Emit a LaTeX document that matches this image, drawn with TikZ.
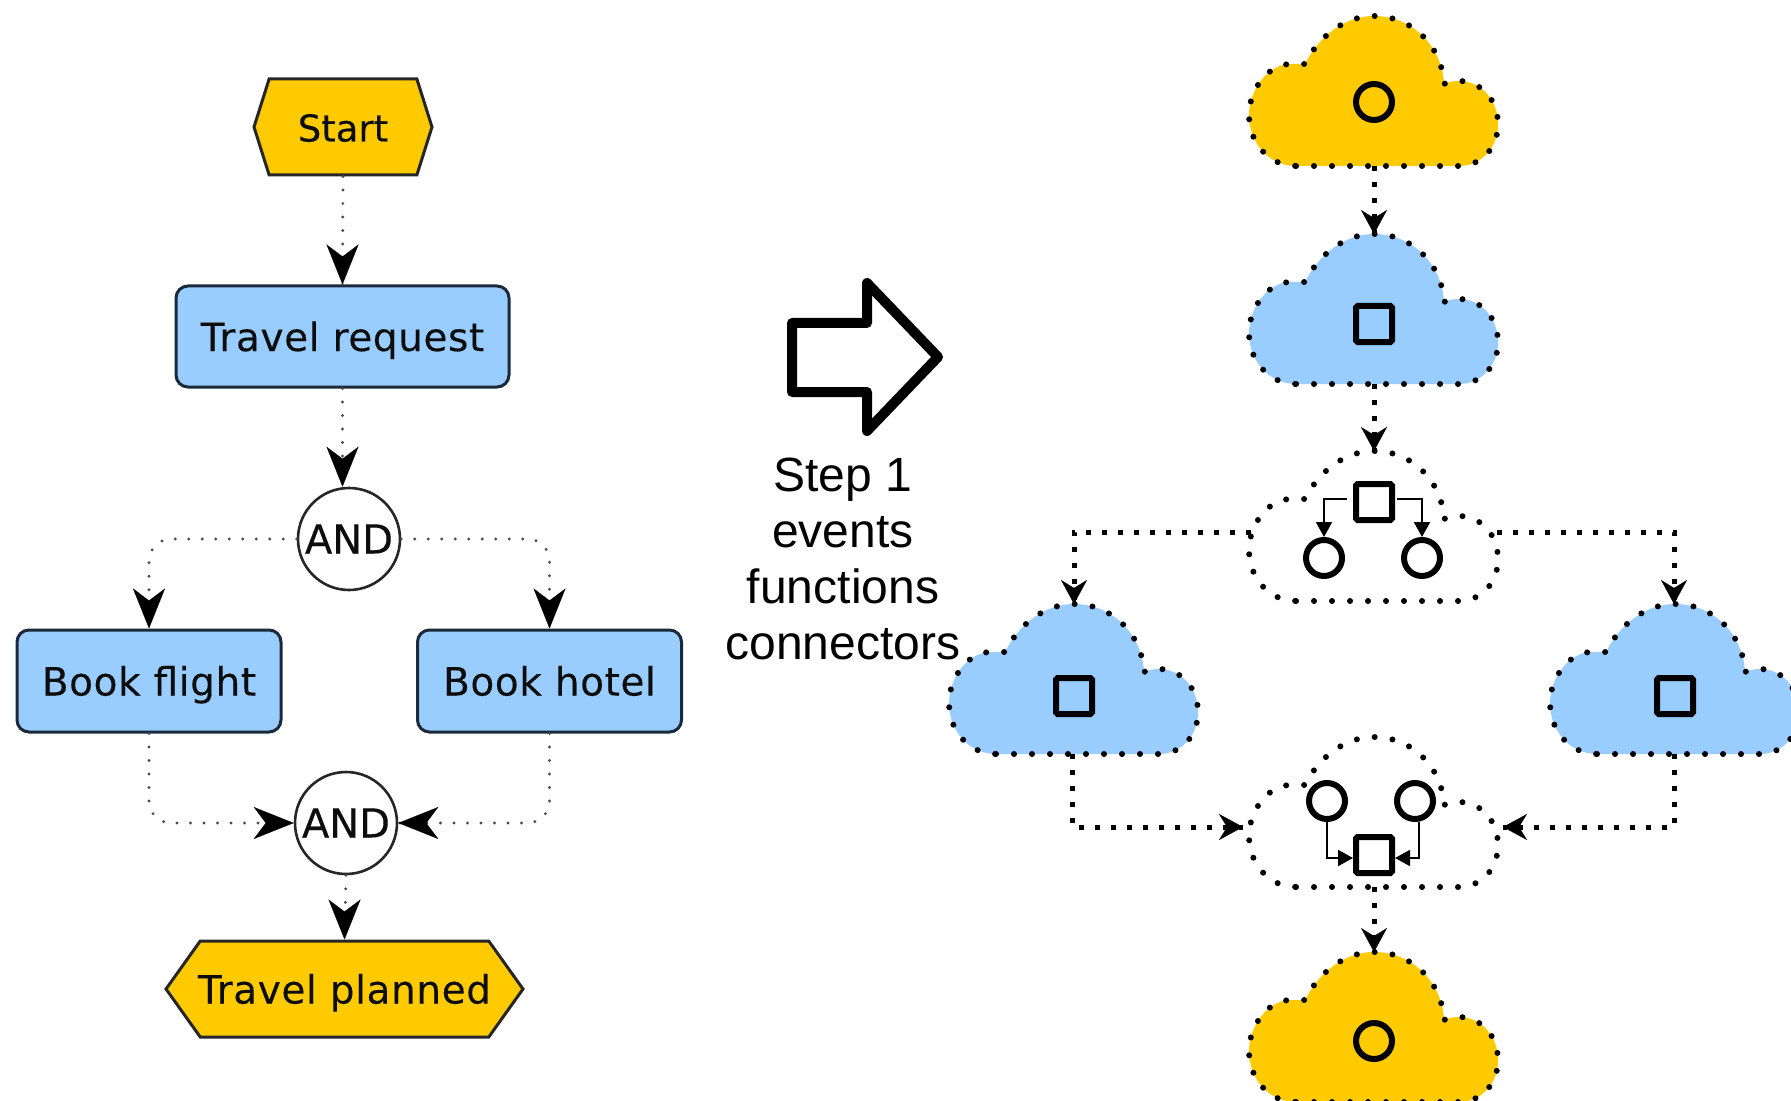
\documentclass[tikz,border=0pt]{standalone}
\usepackage{fontspec}
\setmainfont{Liberation Sans}
\newfontfamily\lucida[LetterSpace=1.5,FakeBold=0.25]{DejaVu Sans}
\newfontfamily\lucidaplain[FakeBold=0.25]{DejaVu Sans}
\usetikzlibrary{arrows.meta,shapes.symbols}
\definecolor{gold}{HTML}{FFCA00}
\definecolor{sky}{HTML}{99CCFF}
\definecolor{ink}{HTML}{1A2A3A}
\tikzset{
  bighead/.style={-{Stealth[length=20pt,width=16pt,inset=6pt]}},
  midhead/.style={-{Stealth[length=12pt,width=13pt,inset=4pt]},draw=black,line width=0.1pt},
  tinyhead/.style={-{Triangle[length=7.5pt,width=8pt]}},
  dotlink/.style={draw=black!70,line width=1.6pt,line cap=round,dash pattern=on 0pt off 6.75pt,rounded corners=11pt},
  headonly/.style={bighead,draw=black,line width=0.1pt},
  sqlink/.style={draw=black,line width=2.5pt,dash pattern=on 2.5pt off 5.5pt},
  solidlink/.style={draw=black,line width=1pt,tinyhead},
  labeltext/.style={text height=15.5pt,text depth=1pt,text=black!95},
  taskbox/.style={draw=ink,line width=1.5pt,fill=sky,rounded corners=6pt,inner sep=0pt,labeltext,
    font=\lucida\fontsize{19.5}{22}\selectfont},
  evbox/.style={shape=signal,signal to=east and west,draw=black!85,line width=1.5pt,fill=gold,inner sep=0pt,labeltext,
    font=\lucida\fontsize{19.5}{22}\selectfont},
  andgate/.style={circle,draw=black!85,line width=1.3pt,fill=white,inner sep=0pt,minimum size=51pt,labeltext,
    font=\lucidaplain\fontsize{20}{22}\selectfont},
  markcirc/.style={circle,draw=black,line width=3pt,inner sep=0pt,minimum size=18pt},
  marksq/.style={rectangle,draw=black,line width=3pt,inner sep=0pt,minimum size=18pt,rounded corners=0.8pt},
  cloudline/.style={draw=black,line width=3pt,line cap=round,dash pattern=on 0pt off 9pt},
  pics/procloud/.style={code={
    \path[fill=#1,postaction={cloudline}] (47,150) -- (210,150)
      .. controls (232,150) and (249,132) .. (249,108)
      .. controls (249,84) and (232,65) .. (210,65)
      .. controls (205,65) and (199,66) .. (195,68)
      .. controls (193,30) and (163,0) .. (125,0)
      .. controls (96,0) and (70,20) .. (56,48)
      -- (42,48)
      .. controls (18,48) and (0,75) .. (0,99)
      .. controls (0,127) and (20,150) .. (47,150) -- cycle;
    \coordinate (-top) at (125,0);
    \coordinate (-bot) at (125,150);
    \coordinate (-w) at (2,81);
    \coordinate (-e) at (248,81);
    \coordinate (-win) at (-6,90);
    \coordinate (-ein) at (254,90);
  }}
}
\begin{document}
\begin{tikzpicture}[x=0.5pt,y=-0.5pt]
\path[use as bounding box,clip] (0,0) rectangle (1791,1101);
\fill[white] (0,0) rectangle (1791,1101);
% left diagram
\node[evbox,font=\lucidaplain\fontsize{18.5}{22}\selectfont,minimum width=89pt,minimum height=48pt,signal pointer angle=145] (st) at (343,127) {Start};
\node[taskbox,minimum width=166.5pt,minimum height=50.5pt] (tr) at (342.5,336.5) {Travel request};
\node[andgate] (a1) at (349,539) {AND};
\node[taskbox,minimum width=132pt,minimum height=51pt] (bf) at (149,681) {Book flight};
\node[taskbox,minimum width=132pt,minimum height=51pt] (bh) at (549.5,681) {Book hotel};
\node[andgate] (a2) at (346,823) {AND};
\node[evbox,minimum width=178.5pt,minimum height=48pt,signal pointer angle=109] (tp) at (344.5,989) {\makebox[100pt]{Travel planned}};
\coordinate (a1in) at (a1.north -| tr.south);
\draw[dotlink] (st.south) -- (tr.north);
\draw[headonly] ([yshift=10pt]tr.north) -- (tr.north);
\draw[dotlink] (tr.south) -- (a1in);
\draw[headonly] ([yshift=10pt]a1in) -- (a1in);
\draw[dotlink] (a1.west) -| (bf.north);
\draw[headonly] ([yshift=10pt]bf.north) -- (bf.north);
\draw[dotlink] (a1.east) -| (bh.north);
\draw[headonly] ([yshift=10pt]bh.north) -- (bh.north);
\draw[dotlink] (bf.south) |- (a2.west);
\draw[headonly] ([xshift=-10pt]a2.west) -- (a2.west);
\draw[dotlink] (bh.south) |- (a2.east);
\draw[headonly] ([xshift=10pt]a2.east) -- (a2.east);
\draw[dotlink] (a2.south) -- (tp.north);
\draw[headonly] ([yshift=10pt]tp.north) -- (tp.north);
% block arrow and caption
\draw[line width=5pt,line join=round,fill=white] (792,323) -- (867,323) -- (867,283) -- (938,357) -- (867,431) -- (867,392) -- (792,392) -- cycle;
\node[align=center,font=\fontsize{24}{28}\selectfont,inner sep=0pt] (cap) at (843,559) {Step 1\\events\\functions\\connectors};
% right diagram
\pic (c1) at (1249,16) {procloud=gold};
\pic (c2) at (1249,234) {procloud=sky};
\pic (c3) at (1249,451) {procloud=none};
\pic (c4) at (949,604) {procloud=sky};
\pic (c5) at (1550,604) {procloud=sky};
\pic (c6) at (1249,737) {procloud=none};
\pic (c7) at (1249,952) {procloud=gold};
\node[markcirc] (m1) at (1374,102) {};
\node[marksq] (m2) at (1374,324) {};
\node[marksq] (m3) at (1374,502) {};
\node[markcirc] (m3a) at (1324,558) {};
\node[markcirc] (m3b) at (1422,558) {};
\node[marksq] (m4) at (1074,696) {};
\node[marksq] (m5) at (1675,696) {};
\node[markcirc] (m6a) at (1327,801) {};
\node[markcirc] (m6b) at (1415,801) {};
\node[marksq] (m6) at (1374,855) {};
\node[markcirc] (m7) at (1374,1041) {};
\draw[solidlink] ([yshift=1.5pt,xshift=-3pt]m3.west) -| (m3a.north);
\draw[solidlink] ([yshift=1.5pt,xshift=1pt]m3.east) -| (m3b.north);
\draw[solidlink] (m6a.south) |- ([yshift=-1.5pt]m6.west);
\draw[solidlink] ([xshift=2pt]m6b.south) |- ([yshift=-1.5pt]m6.east);
\draw[sqlink] (c1-bot) -- (c2-top);
\draw[midhead] ([yshift=8pt]c2-top) -- (c2-top);
\draw[sqlink] (c2-bot) -- (c3-top);
\draw[midhead] ([yshift=8pt]c3-top) -- (c3-top);
\draw[sqlink] (c3-w) -| (c4-top);
\draw[midhead] ([yshift=8pt]c4-top) -- (c4-top);
\draw[sqlink] (c3-e) -| ([xshift=-0.5pt]c5-top);
\draw[midhead] ([xshift=-0.5pt,yshift=8pt]c5-top) -- ([xshift=-0.5pt]c5-top);
\draw[sqlink] ([xshift=-1pt]c4-bot) |- (c6-win);
\draw[midhead] ([xshift=-8pt]c6-win) -- (c6-win);
\draw[sqlink] ([xshift=-0.5pt]c5-bot) |- (c6-ein);
\draw[midhead] ([xshift=8pt]c6-ein) -- (c6-ein);
\draw[sqlink] (c6-bot) -- (c7-top);
\draw[midhead] ([yshift=8pt]c7-top) -- (c7-top);
\end{tikzpicture}
\end{document}
